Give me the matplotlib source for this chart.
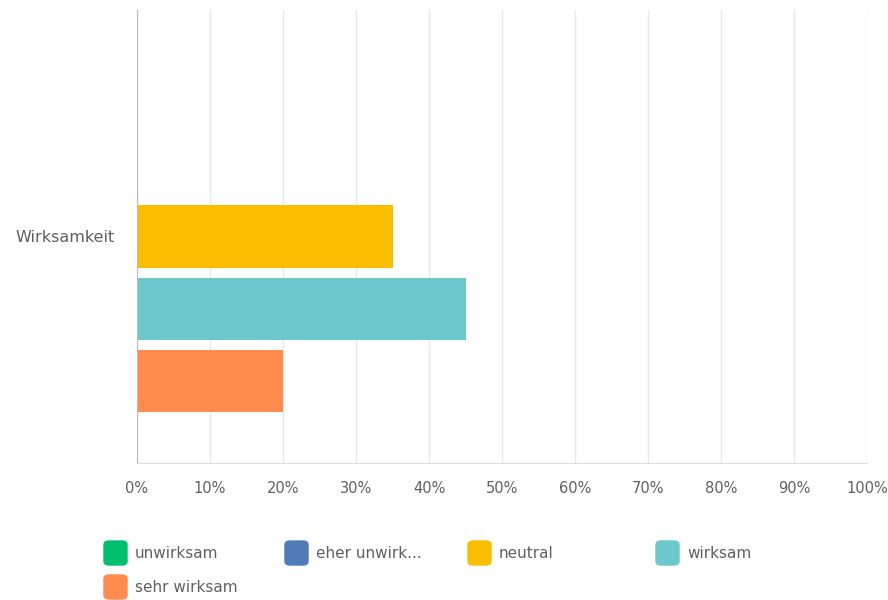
import numpy as np
import matplotlib.pyplot as plt
from matplotlib.patches import FancyBboxPatch

# data
category = "Wirksamkeit"
series = ["unwirksam", "eher unwirk...", "neutral", "wirksam", "sehr wirksam"]
values = [0, 0, 35, 45, 20]
colors = ["#00bf6f", "#507cb6", "#f9be00", "#6bc8cd", "#ff8b4f"]
ticks = np.arange(0, 101, 10)

plt.rcParams['font.family'] = ['DejaVu Sans']

fig = plt.figure(figsize=(8.88, 6.0), dpi=100)
ax = fig.add_axes([137/888, 1 - 463/600, (867-137)/888, (463-10)/600])

pitch = 0.16
height = 0.137
for i, (name, val, col) in enumerate(zip(series, values, colors)):
    ax.barh((i - 2) * pitch, val, height=height, color=col, zorder=2)

ax.set_ylim(0.5, -0.5)
ax.set_xlim(0, 100)
ax.set_yticks([0])
ax.set_yticklabels([category])
ax.set_xticks(ticks)
ax.set_xticklabels([f"{t}%" for t in ticks])
ax.xaxis.grid(True, color="#e8e8e8", lw=1, zorder=0)
ax.tick_params(length=0, labelsize=10.5, labelcolor="#606060")
ax.tick_params(axis='x', pad=13)
ax.tick_params(axis='y', pad=16, labelsize=11.5)
for s in ["top", "right"]:
    ax.spines[s].set_visible(False)
ax.spines["left"].set_color("#bbbbbb")
ax.spines["bottom"].set_color("#dddddd")

# legend drawn by hand with rounded swatches
col_x = [104, 285, 468, 656]
row_y = [553, 587]
for i, (name, col) in enumerate(zip(series, colors)):
    r, c = divmod(i, 4)
    x0 = col_x[c] / 888
    y0 = 1 - row_y[r] / 600
    w, h = 23 / 888, 24 / 600
    fig.patches.append(FancyBboxPatch((x0, y0 - h/2), w, h,
                                      boxstyle="round,pad=0,rounding_size=0.006",
                                      transform=fig.transFigure, color=col))
    fig.text(x0 + 31/888, y0, name, va="center", ha="left",
             fontsize=11, color="#606060")

fig.savefig("out.png", dpi=100)
